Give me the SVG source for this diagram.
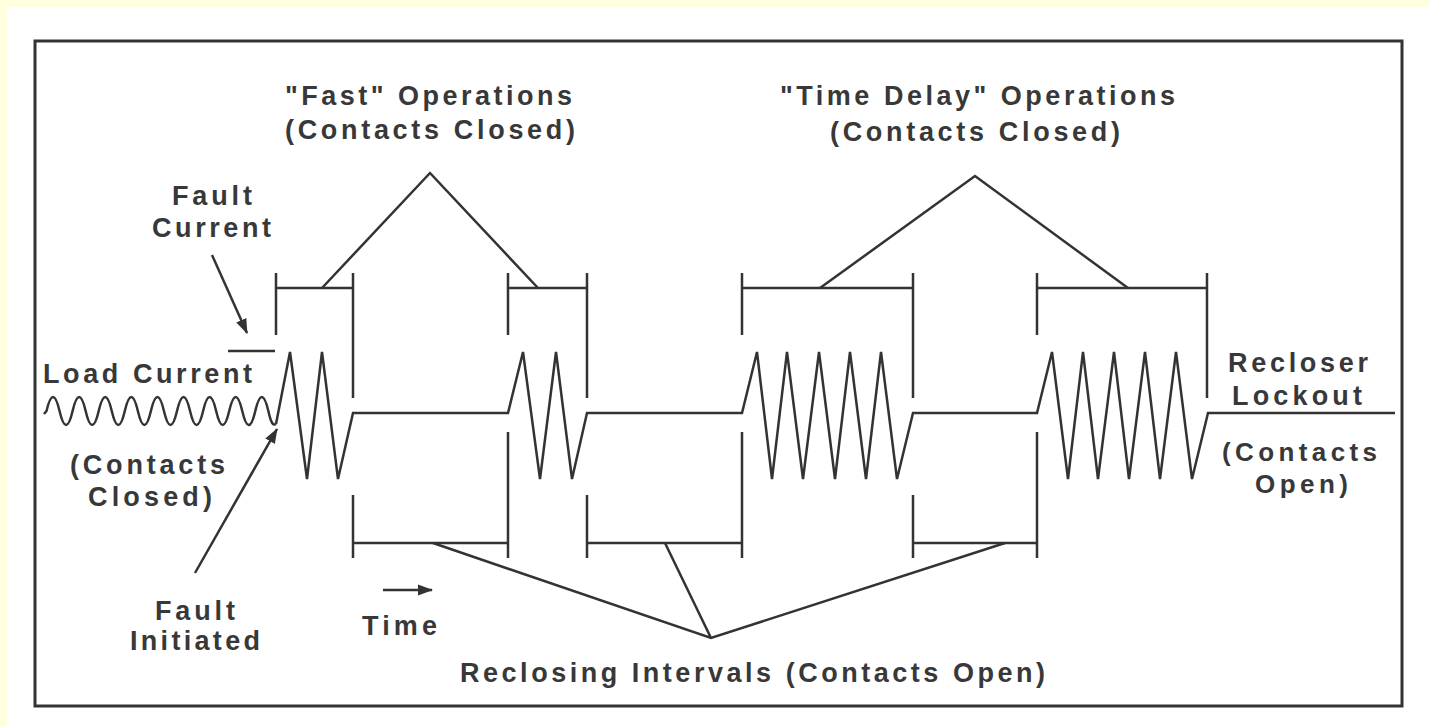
<svg xmlns="http://www.w3.org/2000/svg" width="1430" height="727" viewBox="0 0 1430 727">
<style>
.ln{fill:none;stroke:#333;stroke-width:2.5;stroke-linejoin:miter;stroke-linecap:butt}
.t{font-family:"Liberation Sans",Arial,sans-serif;font-weight:bold;font-size:27px;fill:#383838}
.s{font-size:26px}
</style>
<defs>
<marker id="ah" markerUnits="userSpaceOnUse" markerWidth="16" markerHeight="12" refX="14" refY="6" orient="auto">
<path d="M0,0.5 L15,6 L0,11.5 z" fill="#333"/>
</marker>
</defs>
<rect x="0" y="0" width="1430" height="727" fill="#FFFFE0"/>
<rect x="7" y="7" width="1423" height="720" fill="#FFFFFF"/>
<rect id="frame" x="35" y="41" width="1367" height="665" fill="none" stroke="#333" stroke-width="3"/>

<g id="load-current-wave">
<path class="ln" d="M44,414 L46.5,411 Q53.03,383 59.55,411 T72.6,411 T85.65,411 T98.7,411 T111.75,411 T124.8,411 T137.85,411 T150.9,411 T163.95,411 T177,411 T190.05,411 T203.1,411 T216.15,411 T229.2,411 T242.25,411 T255.3,411 T268.35,411 C271,423 273,426 276,424"/>
</g>

<g id="signal">
<path class="ln" d="M276,424 L290,352 L307,479 L322,352 L338,479 L353,413 L508,413 L523,352 L540,479 L556,352 L572,479 L587,413 L742,413 L757,352 L772,479 L787,352 L803,479 L819,352 L835,479 L850,352 L866,479 L881,352 L897,479 L913,413 L1037,413 L1052,352 L1068,479 L1083,352 L1098,479 L1114,352 L1129,479 L1145,352 L1160,479 L1176,352 L1192,479 L1208,413 L1395,413"/>
</g>

<g id="fast-brackets">
<path class="ln" d="M276,288 H353 M276,273 V335 M353,273 V398 M353,495 V558"/>
<path class="ln" d="M508,288 H587 M508,273 V335 M587,273 V398 M508,432 V558 M587,495 V558"/>
</g>
<g id="delay-brackets">
<path class="ln" d="M742,288 H913 M742,273 V335 M913,273 V398 M742,432 V558 M913,495 V558"/>
<path class="ln" d="M1037,288 H1207 M1037,273 V335 M1207,273 V398 M1037,432 V558"/>
</g>
<g id="reclosing-brackets">
<path class="ln" d="M353,543 H508 M587,543 H742 M913,543 H1037"/>
</g>

<g id="connectors">
<path class="ln" d="M322,288 L430,173 L538,288"/>
<path class="ln" d="M820,288 L975,176 L1128,288"/>
<path class="ln" d="M433,543 L711,638 L1005,543 M665,543 L711,638"/>
<path class="ln" d="M228,351 H275"/>
<line class="ln" x1="212" y1="255" x2="247" y2="333" marker-end="url(#ah)"/>
<line class="ln" x1="195" y1="573" x2="277" y2="429" marker-end="url(#ah)"/>
<line class="ln" x1="383" y1="590" x2="432" y2="590" marker-end="url(#ah)"/>
</g>

<g id="label-fast">
<text class="t" x="285" y="105" textLength="287" lengthAdjust="spacing">"Fast" Operations</text>
<text class="t" x="285" y="139" textLength="290" lengthAdjust="spacing">(Contacts Closed)</text>
</g>
<g id="label-delay">
<text class="t" x="780" y="105" textLength="395" lengthAdjust="spacing">"Time Delay" Operations</text>
<text class="t" x="830" y="141" textLength="290" lengthAdjust="spacing">(Contacts Closed)</text>
</g>
<g id="label-fault-current">
<text class="t" x="172" y="205" textLength="80" lengthAdjust="spacing">Fault</text>
<text class="t" x="152" y="237" textLength="119" lengthAdjust="spacing">Current</text>
</g>
<g id="label-load-current">
<text class="t" x="43" y="383" textLength="209" lengthAdjust="spacing">Load Current</text>
</g>
<g id="label-contacts-closed">
<text class="t" x="70" y="474" textLength="155" lengthAdjust="spacing">(Contacts</text>
<text class="t" x="88" y="506" textLength="124" lengthAdjust="spacing">Closed)</text>
</g>
<g id="label-fault-initiated">
<text class="t" x="155" y="620" textLength="80" lengthAdjust="spacing">Fault</text>
<text class="t" x="130" y="650" textLength="130" lengthAdjust="spacing">Initiated</text>
</g>
<g id="label-time">
<text class="t" x="362" y="635" textLength="75" lengthAdjust="spacing">Time</text>
</g>
<g id="label-reclosing">
<text class="t" x="460" y="682" textLength="585" lengthAdjust="spacing">Reclosing Intervals (Contacts Open)</text>
</g>
<g id="label-lockout">
<text class="t" x="1228" y="372" textLength="140" lengthAdjust="spacing">Recloser</text>
<text class="t" x="1232" y="405" textLength="130" lengthAdjust="spacing">Lockout</text>
<text class="t s" x="1222" y="461" textLength="155" lengthAdjust="spacing">(Contacts</text>
<text class="t s" x="1255" y="493" textLength="93" lengthAdjust="spacing">Open)</text>
</g>
</svg>
